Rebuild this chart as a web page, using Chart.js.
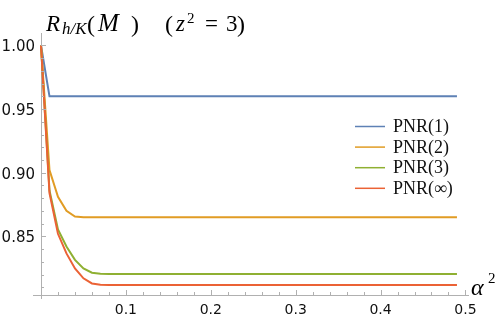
<!DOCTYPE html>
<html>
<head>
<meta charset="utf-8">
<script src="https://cdn.jsdelivr.net/npm/chart.js@4/dist/chart.umd.min.js"></script>
<style>
  html, body { margin: 0; padding: 0; background: #fff; }
  #wrap { width: 498px; height: 317px; position: relative; }
</style>
</head>
<body>
<div id="wrap"><canvas id="plot"></canvas></div>
<script>
// alpha^2 sample points
const alpha2 = [
  0.00, 0.01, 0.02, 0.03, 0.04, 0.05, 0.06, 0.07, 0.08, 0.09,
  0.10, 0.11, 0.12, 0.13, 0.14, 0.15, 0.16, 0.17, 0.18, 0.19,
  0.20, 0.21, 0.22, 0.23, 0.24, 0.25, 0.26, 0.27, 0.28, 0.29,
  0.30, 0.31, 0.32, 0.33, 0.34, 0.35, 0.36, 0.37, 0.38, 0.39,
  0.40, 0.41, 0.42, 0.43, 0.44, 0.45, 0.46, 0.47, 0.48, 0.49
];

const pnr1 = [
  1.000, 0.960, 0.960, 0.960, 0.960, 0.960, 0.960, 0.960, 0.960, 0.960,
  0.960, 0.960, 0.960, 0.960, 0.960, 0.960, 0.960, 0.960, 0.960, 0.960,
  0.960, 0.960, 0.960, 0.960, 0.960, 0.960, 0.960, 0.960, 0.960, 0.960,
  0.960, 0.960, 0.960, 0.960, 0.960, 0.960, 0.960, 0.960, 0.960, 0.960,
  0.960, 0.960, 0.960, 0.960, 0.960, 0.960, 0.960, 0.960, 0.960, 0.960
];

const pnr2 = [
  1.000, 0.902, 0.881, 0.870, 0.8655, 0.865, 0.865, 0.865, 0.865, 0.865,
  0.865, 0.865, 0.865, 0.865, 0.865, 0.865, 0.865, 0.865, 0.865, 0.865,
  0.865, 0.865, 0.865, 0.865, 0.865, 0.865, 0.865, 0.865, 0.865, 0.865,
  0.865, 0.865, 0.865, 0.865, 0.865, 0.865, 0.865, 0.865, 0.865, 0.865,
  0.865, 0.865, 0.865, 0.865, 0.865, 0.865, 0.865, 0.865, 0.865, 0.865
];

const pnr3 = [
  1.000, 0.886, 0.8555, 0.842, 0.8315, 0.8248, 0.8214, 0.8206, 0.8205, 0.8205,
  0.8205, 0.8205, 0.8205, 0.8205, 0.8205, 0.8205, 0.8205, 0.8205, 0.8205, 0.8205,
  0.8205, 0.8205, 0.8205, 0.8205, 0.8205, 0.8205, 0.8205, 0.8205, 0.8205, 0.8205,
  0.8205, 0.8205, 0.8205, 0.8205, 0.8205, 0.8205, 0.8205, 0.8205, 0.8205, 0.8205,
  0.8205, 0.8205, 0.8205, 0.8205, 0.8205, 0.8205, 0.8205, 0.8205, 0.8205, 0.8205
];

const pnrInf = [
  1.000, 0.884, 0.852, 0.8366, 0.8248, 0.817, 0.813, 0.8119, 0.8117, 0.8117,
  0.8117, 0.8117, 0.8117, 0.8117, 0.8117, 0.8117, 0.8117, 0.8117, 0.8117, 0.8117,
  0.8117, 0.8117, 0.8117, 0.8117, 0.8117, 0.8117, 0.8117, 0.8117, 0.8117, 0.8117,
  0.8117, 0.8117, 0.8117, 0.8117, 0.8117, 0.8117, 0.8117, 0.8117, 0.8117, 0.8117,
  0.8117, 0.8117, 0.8117, 0.8117, 0.8117, 0.8117, 0.8117, 0.8117, 0.8117, 0.8117
];

const seriesLabels = ['PNR(1)', 'PNR(2)', 'PNR(3)', 'PNR(\u221E)'];
const xTicks = [0.1, 0.2, 0.3, 0.4, 0.5];
const yTicks = [0.85, 0.90, 0.95, 1.00];

const lineColors = ['#5e81b5', '#e19c24', '#8fb032', '#eb6235'];
const axisColor = '#b0b0b0';
const serif = "'Liberation Serif', 'DejaVu Serif', serif";

function toPoints(values) {
  return values.map((v, i) => ({ x: alpha2[i], y: v }));
}

// ticks, axis stubs, title, legend and axis label
const decorations = {
  id: 'decorations',
  afterDraw(chart) {
    const ctx = chart.ctx;
    const xs = chart.scales.x, ys = chart.scales.y;
    const area = chart.chartArea;
    ctx.save();
    ctx.strokeStyle = axisColor;
    ctx.lineWidth = 1;

    // axis stubs past the origin
    ctx.beginPath();
    ctx.moveTo(area.left - 8, area.bottom + 0.5);
    ctx.lineTo(area.left, area.bottom + 0.5);
    ctx.moveTo(area.left + 0.5, area.bottom);
    ctx.lineTo(area.left + 0.5, area.bottom + 4);
    ctx.stroke();

    // y ticks (inside)
    ctx.beginPath();
    for (let k = 81; k <= 100; k++) {
      const v = k / 100;
      const major = yTicks.some(t => Math.abs(t - v) < 1e-6);
      const py = Math.round(ys.getPixelForValue(v)) + 0.5;
      ctx.moveTo(area.left, py);
      ctx.lineTo(area.left + (major ? 5 : 3), py);
    }
    // x ticks (inside)
    for (let k = 1; k <= 25; k++) {
      const v = k * 0.02;
      const px = Math.round(xs.getPixelForValue(v)) + 0.5;
      ctx.moveTo(px, area.bottom);
      ctx.lineTo(px, area.bottom - 3);
    }
    xTicks.forEach(v => {
      const px = Math.round(xs.getPixelForValue(v)) + 0.5;
      ctx.moveTo(px, area.bottom);
      ctx.lineTo(px, area.bottom - 5);
    });
    ctx.stroke();

    // title  R_{h/K}(M)   (z^2 = 3)
    ctx.fillStyle = '#000';
    ctx.textBaseline = 'alphabetic';
    ctx.textAlign = 'left';
    ctx.font = 'italic 23px ' + serif;
    ctx.fillText('R', 46, 31);
    ctx.font = 'italic 17px ' + serif;
    ctx.fillText('h/K', 62, 34);
    ctx.font = '24px ' + serif;
    ctx.fillText('(', 87, 32);
    ctx.font = 'italic 25px ' + serif;
    ctx.fillText('M', 98, 31);
    ctx.font = '24px ' + serif;
    ctx.fillText(')', 131, 32);
    ctx.fillText('(', 165, 32);
    ctx.font = 'italic 23px ' + serif;
    ctx.fillText('z', 176, 31);
    ctx.font = '15px ' + serif;
    ctx.fillText('2', 187, 23);
    ctx.font = '23px ' + serif;
    ctx.fillText('=', 205, 31);
    ctx.fillText('3', 226, 31);
    ctx.font = '24px ' + serif;
    ctx.fillText(')', 237, 32);

    // x axis label alpha^2
    ctx.font = 'italic 24px ' + serif;
    ctx.fillText('\u03B1', 471, 295);
    ctx.font = '15px ' + serif;
    ctx.fillText('2', 488, 283);

    // legend
    ctx.font = '18px ' + serif;
    ctx.textBaseline = 'middle';
    chart.data.datasets.forEach((ds, i) => {
      const y = 126.5 + i * 20.6;
      ctx.strokeStyle = ds.borderColor;
      ctx.lineWidth = 1.5;
      ctx.beginPath();
      ctx.moveTo(355, y);
      ctx.lineTo(385, y);
      ctx.stroke();
      ctx.fillStyle = '#111';
      ctx.fillText(ds.label, 393, y + 1);
    });
    ctx.restore();
  }
};

const datasets = [pnr1, pnr2, pnr3, pnrInf].map((vals, i) => ({
  label: seriesLabels[i],
  data: toPoints(vals),
  borderColor: lineColors[i],
  backgroundColor: lineColors[i],
  borderWidth: 2,
  pointRadius: 0,
  tension: 0,
  fill: false,
  clip: 4,
  order: 4 - i
}));

new Chart(document.getElementById('plot').getContext('2d'), {
  type: 'line',
  data: { datasets: datasets },
  options: {
    responsive: true,
    maintainAspectRatio: false,
    animation: false,
    layout: { padding: { top: 33, right: 30, left: 0, bottom: 0 } },
    scales: {
      x: {
        type: 'linear',
        min: 0,
        max: 0.503,
        afterFit: s => { s.height = 22; },
        afterBuildTicks: s => { s.ticks = xTicks.map(v => ({ value: v })); },
        grid: { display: false, drawTicks: false },
        border: { display: true, color: axisColor, width: 1 },
        ticks: {
          padding: 7,
          color: '#111',
          font: { family: "'DejaVu Sans'", size: 14 },
          maxRotation: 0,
          callback: v => v.toFixed(1)
        }
      },
      y: {
        type: 'linear',
        min: 0.8039,
        max: 1.0098,
        afterFit: s => { s.width = 41; },
        afterBuildTicks: s => { s.ticks = yTicks.map(v => ({ value: v })); },
        grid: { display: false, drawTicks: false },
        border: { display: true, color: axisColor, width: 1 },
        ticks: {
          padding: 6,
          labelOffset: 2,
          color: '#111',
          font: { family: "'DejaVu Sans'", size: 15 },
          callback: v => v.toFixed(2)
        }
      }
    },
    plugins: {
      legend: { display: false },
      tooltip: { enabled: false }
    }
  },
  plugins: [decorations]
});
</script>
</body>
</html>
